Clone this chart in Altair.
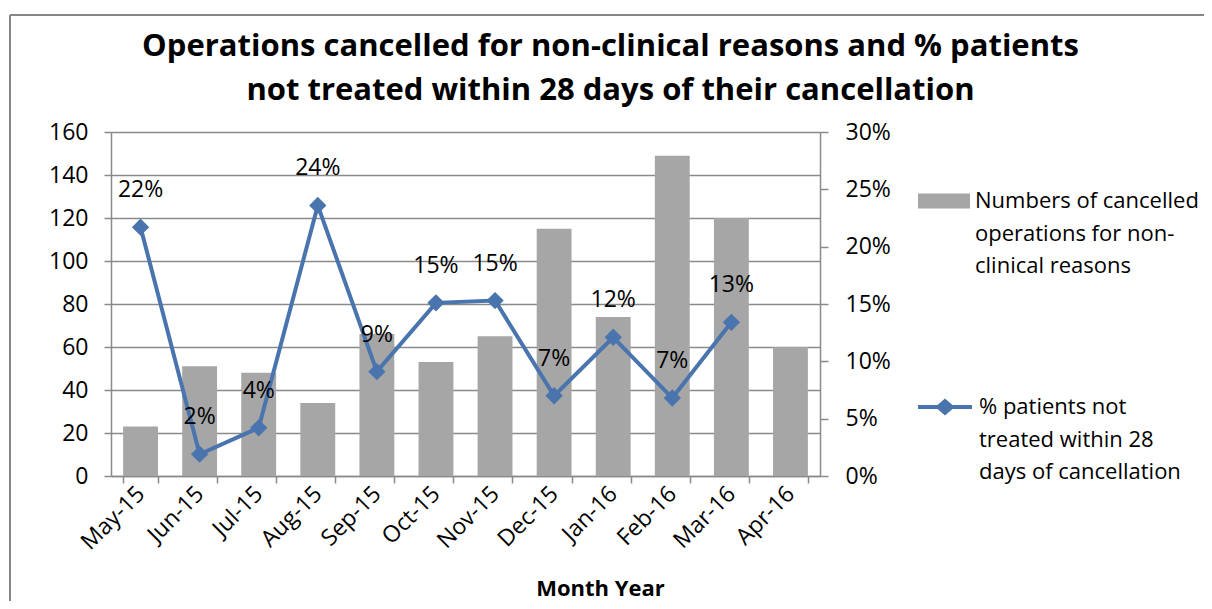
import altair as alt
import pandas as pd

months = ["May-15", "Jun-15", "Jul-15", "Aug-15", "Sep-15", "Oct-15",
          "Nov-15", "Dec-15", "Jan-16", "Feb-16", "Mar-16", "Apr-16"]
cancelled = [23, 51, 48, 34, 66, 53, 65, 115, 74, 149, 120, 60]
pct_not_treated = [0.217, 0.019, 0.042, 0.236, 0.091, 0.151, 0.153,
                   0.070, 0.121, 0.068, 0.134, None]

bar_name = "Numbers of cancelled operations for non-clinical reasons"
line_name = "% patients not treated within 28 days of cancellation"
bar_legend_lines = ["Numbers of cancelled", "operations for non-", "clinical reasons"]
line_legend_lines = ["% patients not", "treated within 28", "days of cancellation"]
title_lines = ["Operations cancelled for non-clinical reasons and % patients",
               "not treated within 28 days of their cancellation"]
left_ticks = [0, 20, 40, 60, 80, 100, 120, 140, 160]
right_ticks = [0, 0.05, 0.10, 0.15, 0.20, 0.25, 0.30]

FONT = "Open Sans"
GRAY_BAR = "#a6a6a6"
BLUE = "#4a74ad"
AXIS_GRAY = "#8a8a8a"

df = pd.DataFrame({
    "month": months,
    "cancelled": cancelled,
    "pct": pct_not_treated,
    "bar_series": bar_name,
    "line_series": line_name,
})

x_enc = alt.X(
    "month:N", sort=months,
    scale=alt.Scale(paddingInner=0.41, paddingOuter=0.205),
    axis=alt.Axis(
        title="Month Year", labelAngle=-45, labelAlign="right", labelBaseline="middle",
        labelPadding=7, tickBand="extent", tickSize=7,
        titleFontWeight="bold", titleX=489, titleY=112, titleBaseline="middle",
        titleAnchor="start", titleAlign="center",
    ),
)

bars = alt.Chart(df).mark_bar(opacity=1).encode(
    x=x_enc,
    y=alt.Y("cancelled:Q", scale=alt.Scale(domain=[0, 160], nice=False),
            axis=alt.Axis(values=left_ticks, title=None, grid=True, gridColor=AXIS_GRAY,
                          gridWidth=1.5, tickSize=7, labelPadding=16)),
    fill=alt.Fill("bar_series:N", scale=alt.Scale(range=[GRAY_BAR]),
                  legend=alt.Legend(
                      title=None, orient="none", legendX=807, legendY=43,
                      symbolType="M-1,-0.29L1,-0.29L1,0.29L-1,0.29Z", symbolSize=2704,
                      symbolStrokeWidth=0, labelOffset=5,
                      labelExpr=str(bar_legend_lines), labelLimit=400, padding=0)),
)

base = alt.Chart(df).encode(
    x=alt.X("month:N", sort=months),
    y=alt.Y("pct:Q", scale=alt.Scale(domain=[0, 0.3], nice=False),
            axis=alt.Axis(orient="right", values=right_ticks, format=".0%", title=None,
                          grid=False, tickSize=8, labelPadding=17, labelAlign="left")),
)

line = base.mark_line(
    strokeWidth=4,
    point=alt.OverlayMarkDef(shape="diamond", size=300, filled=True, fill=BLUE, strokeWidth=0),
).encode(
    stroke=alt.Stroke("line_series:N", scale=alt.Scale(range=[BLUE]),
                      legend=alt.Legend(
                          title=None, orient="none", legendX=805, legendY=246,
                          symbolType="M-1,0L-0.25,0L0,-0.22L0.25,0L1,0L0.25,0L0,0.22L-0.25,0Z",
                          symbolSize=2916, symbolStrokeWidth=4, symbolFillColor=BLUE,
                          labelOffset=5, labelExpr=str(line_legend_lines), labelLimit=400,
                          padding=0)),
)

labels = base.mark_text(dy=-37, fontSize=23, font=FONT, color="black").encode(
    text=alt.Text("pct:Q", format=".0%"),
)

border_data = alt.Data(values=[{"k": 1}])
border_left = alt.Chart(border_data).mark_rule(color="#868686", strokeWidth=2).encode(
    x=alt.value(-101), y=alt.value(-117), y2=alt.value(480))
border_top = alt.Chart(border_data).mark_rule(color="#868686", strokeWidth=2).encode(
    x=alt.value(-101), x2=alt.value(1100), y=alt.value(-117))

chart = alt.layer(
    bars,
    alt.layer(line, labels),
    border_left,
    border_top,
).resolve_scale(y="independent").properties(
    width=709,
    height=344,
    padding={"left": 103, "top": 124, "right": 384, "bottom": 125},
    autosize=alt.AutoSizeParams(type="none"),
    title=alt.TitleParams(
        text=title_lines, font=FONT, fontSize=31, fontWeight="bold", color="black",
        anchor="middle", frame="bounds", baseline="bottom", offset=0, dy=124, lineHeight=44,
    ),
).configure(
    style={"guide-label": {"lineHeight": 32.5}},
).configure_view(stroke=None).configure_axis(
    labelFont=FONT, labelFontSize=23, labelColor="black",
    titleFont=FONT, titleFontSize=22, titleColor="black",
    domainColor=AXIS_GRAY, domainWidth=1.5, tickColor=AXIS_GRAY, tickWidth=1.5,
).configure_legend(
    labelFont=FONT, labelFontSize=22, labelColor="black",
)

chart.save("out.html", embed_options={"renderer": "svg", "actions": False})
